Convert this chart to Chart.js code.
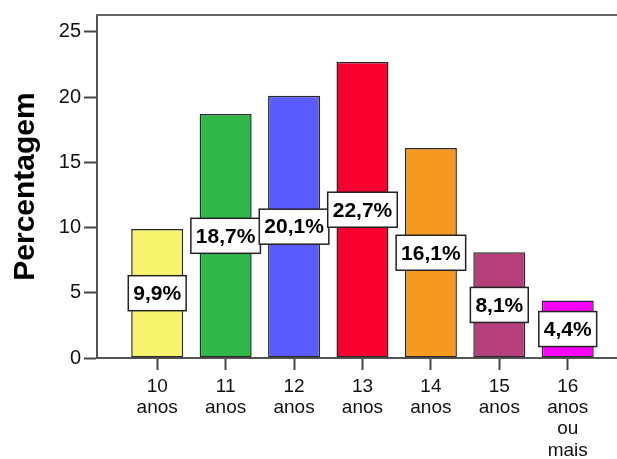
<!DOCTYPE html>
<html>
<head>
<meta charset="utf-8">
<script src="https://cdn.jsdelivr.net/npm/chart.js@4/dist/chart.umd.min.js"></script>
<style>
  html, body { margin: 0; padding: 0; background: #fff; overflow: hidden; }
  #wrap { width: 617px; height: 459px; }
</style>
</head>
<body>
<div id="wrap"><canvas id="chart" width="617" height="459"></canvas></div>
<script>
const categories = [['10', 'anos'], ['11', 'anos'], ['12', 'anos'], ['13', 'anos'], ['14', 'anos'], ['15', 'anos'], ['16', 'anos', 'ou', 'mais']];
const percentages = [9.9, 18.7, 20.1, 22.7, 16.1, 8.1, 4.4];
const barColors = ['#f9f46e', '#2fb74a', '#5a5cff', '#f7002f', '#f7981f', '#b43f7a', '#ff00ff'];
const yTicks = [0, 5, 10, 15, 20, 25];

const FONT = "'Liberation Sans', Arial, sans-serif";

// white boxes with the percentage in the middle of each bar
const boxLabels = {
    id: 'boxLabels',
    afterDatasetsDraw(chart) {
        const ctx = chart.ctx;
        const meta = chart.getDatasetMeta(0);
        ctx.save();
        ctx.font = 'bold 21px ' + FONT;
        ctx.textAlign = 'center';
        ctx.textBaseline = 'middle';
        meta.data.forEach((bar, i) => {
            const text = percentages[i].toFixed(1).replace('.', ',') + '%';
            const w = ctx.measureText(text).width + 10;
            const h = 35;
            const cy = (bar.y + bar.base) / 2;
            ctx.fillStyle = '#ffffff';
            ctx.fillRect(bar.x - w / 2, cy - h / 2, w, h);
            ctx.lineWidth = 1.5;
            ctx.strokeStyle = '#222';
            ctx.strokeRect(bar.x - w / 2, cy - h / 2, w, h);
            ctx.fillStyle = '#000';
            ctx.fillText(text, bar.x, cy + 1);
        });
        ctx.restore();
    }
};

// top frame line of the plot area
const topLine = {
    id: 'topLine',
    afterDraw(chart) {
        const a = chart.chartArea;
        const ctx = chart.ctx;
        ctx.save();
        ctx.strokeStyle = '#666';
        ctx.lineWidth = 2;
        ctx.beginPath();
        ctx.moveTo(a.left - 1, a.top);
        ctx.lineTo(a.right, a.top);
        ctx.stroke();
        ctx.restore();
    }
};

new Chart(document.getElementById('chart'), {
    type: 'bar',
    data: {
        datasets: [{
            data: percentages.map((v, i) => ({ x: i, y: v })),
            backgroundColor: barColors,
            borderColor: '#2a2a2a',
            borderWidth: 1.5,
            borderSkipped: false,
            barPercentage: 0.76,
            categoryPercentage: 1
        }]
    },
    options: {
        responsive: false,
        animation: false,
        layout: { padding: { top: 15, right: 0, left: 0, bottom: 0 } },
        plugins: {
            legend: { display: false },
            tooltip: { enabled: false }
        },
        scales: {
            x: {
                type: 'linear',
                offset: false,
                min: -0.88,
                max: 6.72,
                afterBuildTicks: (scale) => { scale.ticks = categories.map((c, i) => ({ value: i })); },
                afterFit: (scale) => { scale.height = 101; },
                grid: { offset: false, drawOnChartArea: false, drawTicks: true, tickLength: 12, tickColor: '#444', tickWidth: 2 },
                border: { display: true, color: '#555', width: 2 },
                ticks: {
                    autoSkip: false,
                    maxRotation: 0,
                    padding: 6,
                    color: '#111',
                    font: { family: FONT, size: 19, lineHeight: 1.12 },
                    callback: (v) => categories[v]
                }
            },
            y: {
                min: 0,
                max: 26.3,
                afterBuildTicks: (scale) => { scale.ticks = yTicks.map(v => ({ value: v })); },
                afterFit: (scale) => { scale.width = 97; },
                grid: { drawOnChartArea: false, drawTicks: true, tickLength: 13, tickColor: '#444', tickWidth: 2 },
                border: { display: true, color: '#555', width: 2 },
                ticks: {
                    padding: 3,
                    color: '#111',
                    font: { family: FONT, size: 20 }
                },
                title: {
                    display: true,
                    text: 'Percentagem',
                    color: '#000',
                    font: { family: FONT, size: 30, weight: 'bold' },
                    padding: { top: 8, bottom: 0 }
                }
            }
        }
    },
    plugins: [boxLabels, topLine]
});
</script>
</body>
</html>
